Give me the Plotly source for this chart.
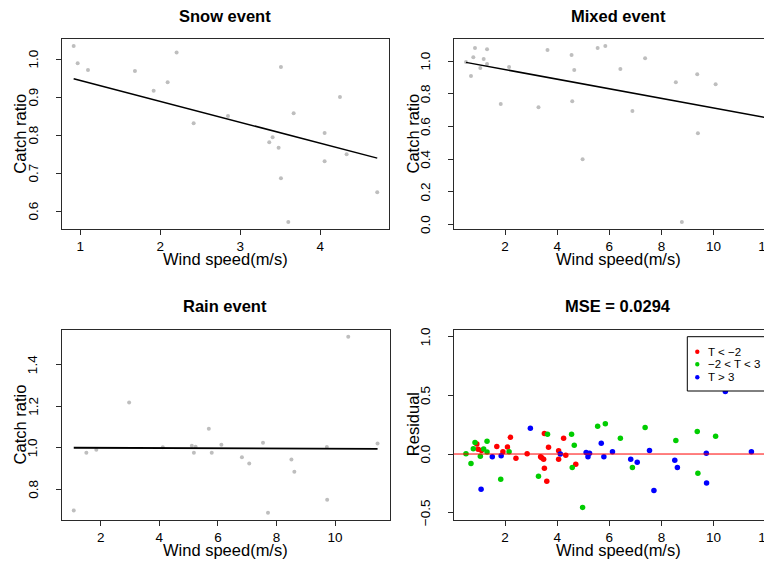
import plotly.graph_objects as go

# ---------------- data ----------------
snow_wind = [0.917, 0.967, 1.096, 1.683, 1.917, 2.092, 2.204, 2.417, 2.846, 3.362, 3.404,
             3.479, 3.508, 3.508, 3.600, 3.667, 4.054, 4.054, 4.246, 4.329, 4.712]
snow_ratio = [1.035, 0.990, 0.972, 0.969, 0.917, 0.940, 1.018, 0.832, 0.851, 0.782, 0.795,
              0.767, 0.980, 0.687, 0.572, 0.858, 0.806, 0.732, 0.901, 0.750, 0.650]
snow_resid = [0.085, 0.040, 0.031, 0.065, 0.020, 0.060, 0.142, -0.037, 0.003, -0.023, -0.031,
              -0.045, 0.176, -0.122, -0.233, 0.057, 0.028, -0.045, 0.134, -0.011, -0.088]
snow_fit_x = [0.917, 4.712]
snow_fit_y = [0.949, 0.740]

mixed_wind = [0.500, 0.692, 0.782, 0.846, 1.051, 1.179, 1.308, 1.308, 1.833, 2.154, 3.282,
              3.628, 4.551, 4.577, 4.654, 4.974, 5.551, 5.846, 6.423, 6.885, 7.372, 8.551,
              8.782, 9.372, 9.397, 10.077, 12.18]
mixed_ratio = [0.994, 0.908, 1.024, 1.080, 0.957, 1.012, 1.073, 0.982, 0.737, 0.963, 0.718,
               1.067, 1.037, 0.755, 0.945, 0.400, 1.080, 1.092, 0.951, 0.694, 1.018, 0.871,
               0.016, 0.920, 0.559, 0.859, 0.706]
mixed_resid = [0.003, -0.080, 0.045, 0.099, -0.020, 0.043, 0.108, 0.017, -0.216, 0.020, -0.190,
               0.168, 0.168, -0.114, 0.074, -0.455, 0.236, 0.259, 0.134, -0.114, 0.227, 0.116,
               -0.733, 0.193, -0.165, 0.151, 0.057]
mixed_fit_x = [0.5, 12.18]
mixed_fit_y = [0.992, 0.649]

rain_wind = [1.08, 1.51, 1.85, 2.97, 4.12, 5.11, 5.18, 5.24, 5.69, 5.79, 6.12, 6.82, 7.07,
             7.54, 7.71, 8.51, 8.61, 9.72, 9.73, 10.45, 11.45]
rain_ratio = [0.699, 0.977, 0.992, 1.219, 1.003, 1.011, 0.977, 1.006, 1.093, 0.977, 1.016,
              0.955, 0.925, 1.025, 0.689, 0.944, 0.886, 1.005, 0.751, 1.535, 1.021]
rain_resid = [-0.301, -0.023, -0.014, 0.219, 0.000, 0.014, -0.023, 0.006, 0.091, -0.023, 0.020,
              -0.045, -0.071, 0.031, -0.310, -0.054, -0.114, 0.006, -0.247, 0.534, 0.020]
rain_fit_x = [1.08, 11.45]
rain_fit_y = [1.001, 0.996]

zero_level = 0.0

panel_titles = ["Snow event", "Mixed event", "Rain event", "MSE = 0.0294"]
x_title = "Wind speed(m/s)"
y_titles = ["Catch ratio", "Catch ratio", "Catch ratio", "Residual"]
legend_labels = ["T < \u22122", "\u22122 < T < 3", "T > 3"]

snow_xticks = [1, 2, 3, 4]
snow_yticks = [0.6, 0.7, 0.8, 0.9, 1.0]
mixed_xticks = [2, 4, 6, 8, 10, 12]
mixed_yticks = [0.0, 0.2, 0.4, 0.6, 0.8, 1.0]
rain_xticks = [2, 4, 6, 8, 10]
rain_yticks = [0.8, 1.0, 1.2, 1.4]
resid_xticks = [2, 4, 6, 8, 10, 12]
resid_yticks = [-0.5, 0.0, 0.5, 1.0]

# ---------------- style / layout ----------------
# The page has an 8px body margin, so the figure is sized to fit the window
# and page-pixel positions are converted accordingly.
OFF = 8
W, H = 772 - OFF, 565 - OFF
FONT = "Liberation Sans, Arial, Helvetica, sans-serif"
GRAY = "#BEBEBE"
RED, GREEN, BLUE = "#FF0000", "#00CD00", "#0000FF"
AXC = "#2a2a2a"
TICK_SIZE = 13.5
LABEL_SIZE = 16.5

def fx(px):
    return (px - OFF) / W

def fy(py):
    return 1 - (py - OFF) / H

# panel boxes in page pixels: (left, right, top, bottom)
boxes = [
    (61.5, 389.4, 39.0, 229.0),
    (453.8, 772.0, 39.0, 229.0),
    (61.6, 389.7, 329.7, 519.7),
    (453.8, 772.0, 329.7, 519.7),
]
xranges = [[0.765, 4.864], [0.033, 12.24], [0.665, 11.865], [0.033, 12.24]]
yranges = [[0.5535, 1.0535], [-0.027, 1.135], [0.655, 1.569], [-0.56, 1.06]]
xticks = [snow_xticks, mixed_xticks, rain_xticks, resid_xticks]
yticks = [snow_yticks, mixed_yticks, rain_yticks, resid_yticks]
full_center_x = [225.5, 618.0, 225.5, 618.0]

fig = go.Figure()

def add_points(i, x, y, color, size):
    sfx = "" if i == 0 else str(i + 1)
    fig.add_trace(go.Scatter(x=x, y=y, mode="markers", xaxis="x" + sfx, yaxis="y" + sfx,
                             marker=dict(color=color, size=size, line=dict(width=0)),
                             showlegend=False, hoverinfo="x+y"))

def add_line(i, x, y, width=1.5):
    sfx = "" if i == 0 else str(i + 1)
    fig.add_trace(go.Scatter(x=x, y=y, mode="lines", xaxis="x" + sfx, yaxis="y" + sfx,
                             line=dict(color="black", width=width),
                             showlegend=False, hoverinfo="skip"))

add_points(0, snow_wind, snow_ratio, GRAY, 4)
add_line(0, snow_fit_x, snow_fit_y)
add_points(1, mixed_wind, mixed_ratio, GRAY, 4)
add_line(1, mixed_fit_x, mixed_fit_y)
add_points(2, rain_wind, rain_ratio, GRAY, 4)
add_line(2, rain_fit_x, rain_fit_y, 1.8)
add_points(3, snow_wind, snow_resid, RED, 5.5)
add_points(3, mixed_wind, mixed_resid, GREEN, 5.5)
add_points(3, rain_wind, rain_resid, BLUE, 5.5)

layout = dict(width=W, height=H, autosize=False,
              margin=dict(l=0, r=0, t=0, b=0, pad=0),
              paper_bgcolor="white", plot_bgcolor="white",
              font=dict(family=FONT, color="black"),
              showlegend=False)

annotations = []
for i in range(4):
    l, r, t, b = boxes[i]
    sfx = "" if i == 0 else str(i + 1)
    common = dict(showgrid=False, zeroline=False, showline=True, linecolor=AXC, linewidth=1,
                  ticks="outside", ticklen=5, tickwidth=1, tickcolor=AXC,
                  tickfont=dict(family=FONT, size=TICK_SIZE, color="black"), automargin=False)
    layout["xaxis" + sfx] = dict(common, domain=[fx(l), min(1.0, fx(r))], range=xranges[i],
                                 anchor="y" + sfx, mirror=True, tickmode="array",
                                 tickvals=xticks[i], ticktext=[str(v) for v in xticks[i]],
                                 ticklabelstandoff=0, ticklabeloverflow="allow")
    # y ticks: marks from the axis, labels placed R-style (rotated, parallel to the axis)
    layout["yaxis" + sfx] = dict(common, domain=[fy(b), fy(t)], range=yranges[i],
                                 anchor="x" + sfx, mirror=(i in (0, 2)), tickmode="array",
                                 tickvals=yticks[i], showticklabels=False)
    for v in yticks[i]:
        annotations.append(dict(text=f"{v:.1f}".replace("-", "\u2212"),
                                x=fx(l - 28.3), xref="paper", y=v, yref="y" + sfx,
                                xanchor="center", yanchor="middle", textangle=-90,
                                showarrow=False,
                                font=dict(size=TICK_SIZE, family=FONT, color="black")))

title_y = [16, 16, 306, 306]
xt_y = [259, 259, 549.5, 549.5]
yt_x = [19.7, 412.5, 19.7, 412.5]
for i in range(4):
    l, r, t, b = boxes[i]
    annotations.append(dict(text="<b>" + panel_titles[i] + "</b>", x=fx(full_center_x[i]), y=fy(title_y[i]),
                            xref="paper", yref="paper", xanchor="center", yanchor="middle",
                            showarrow=False, font=dict(size=LABEL_SIZE, family=FONT, color="black")))
    annotations.append(dict(text=x_title, x=fx(full_center_x[i]), y=fy(xt_y[i]),
                            xref="paper", yref="paper", xanchor="center", yanchor="middle",
                            showarrow=False, font=dict(size=LABEL_SIZE, family=FONT, color="black")))
    annotations.append(dict(text=y_titles[i], x=fx(yt_x[i]), y=fy((t + b) / 2),
                            xref="paper", yref="paper", xanchor="center", yanchor="middle",
                            textangle=-90, showarrow=False,
                            font=dict(size=LABEL_SIZE, family=FONT, color="black")))

# legend (manual, R-style box)
leg_l, leg_r, leg_t, leg_b = 687.3, 766.7, 336.7, 391.0
leg_rows = [351.7, 364.3, 377.3]
leg_colors = [RED, GREEN, BLUE]
shapes = [dict(type="line", xref="x4 domain", yref="y4", x0=0, x1=1, y0=zero_level, y1=zero_level,
               line=dict(color=RED, width=1)),
          dict(type="rect", xref="paper", yref="paper", x0=fx(leg_l), x1=fx(leg_r),
               y0=fy(leg_b), y1=fy(leg_t), line=dict(color="black", width=1), fillcolor="white")]
for lab, col, ry in zip(legend_labels, leg_colors, leg_rows):
    rad = 2.2
    shapes.append(dict(type="circle", xref="paper", yref="paper",
                       x0=fx(697.3 - rad), x1=fx(697.3 + rad), y0=fy(ry + rad), y1=fy(ry - rad),
                       fillcolor=col, line=dict(width=0)))
    annotations.append(dict(text=lab, x=fx(705.5), y=fy(ry), xref="paper", yref="paper",
                            xanchor="left", yanchor="middle", showarrow=False,
                            font=dict(size=11.5, family=FONT, color="black")))

layout["shapes"] = shapes
layout["annotations"] = annotations
fig.update_layout(**layout)
fig.write_html("out.html")
